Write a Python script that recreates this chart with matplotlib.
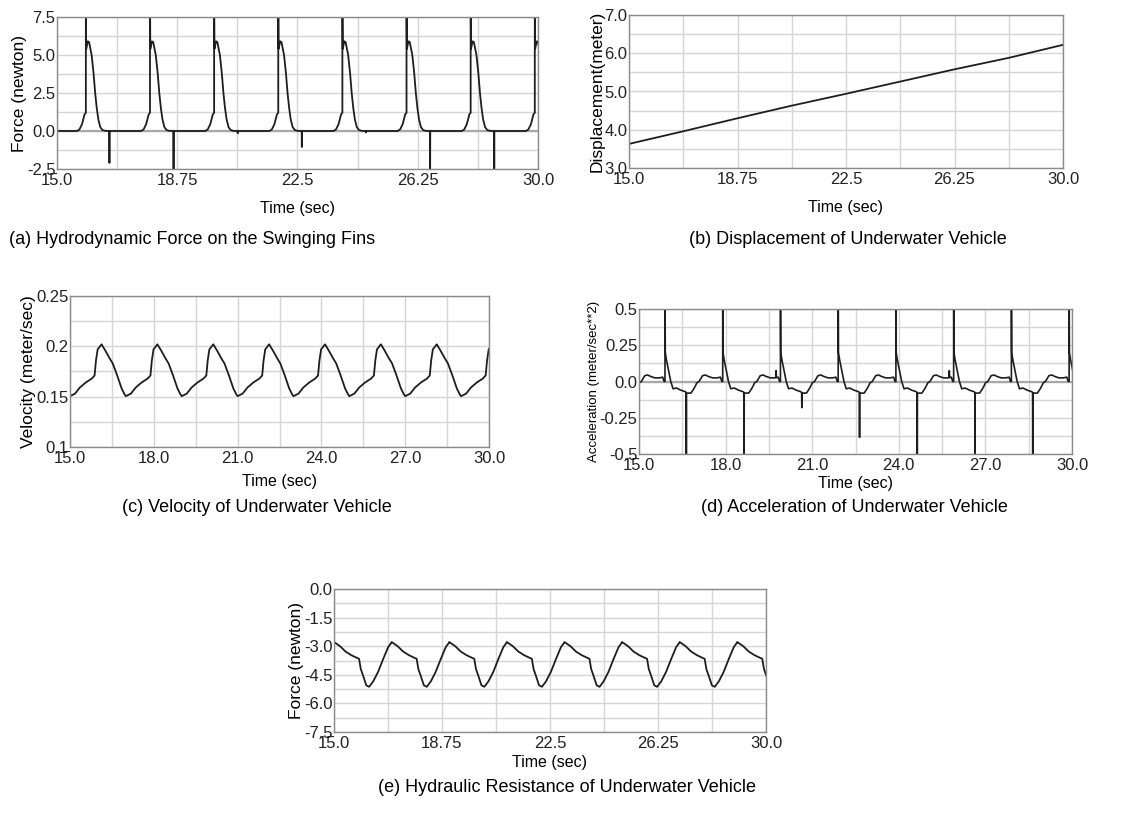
import matplotlib
matplotlib.use('Agg')
import matplotlib.pyplot as plt
import numpy as np

plt.rcParams['font.family'] = ['Liberation Sans', 'DejaVu Sans']

# stroke instants of the fins (seconds)
strokes = [15.9, 17.9, 19.9, 21.9, 23.9, 25.9, 27.9, 29.9]

# (a) hydrodynamic force, one stroke cycle relative to the stroke instant
fin_dt = [-1.1, -0.28, -0.20, -0.12, -0.04, 0.0, 0.0, 0.01, 0.06, 0.10, 0.18,
          0.24, 0.29, 0.34, 0.39, 0.45, 0.52, 0.60, 0.72, 0.73, 0.735, 0.74, 0.9]
fin_force = [0.0, 0.0, 0.1, 0.45, 1.1, 1.2, 9.0, 5.4, 5.9, 5.85, 5.0,
             3.8, 2.5, 1.5, 0.75, 0.25, 0.06, 0.01, 0.0, 0.0, 0.0, 0.0, 0.0]
fin_dip_idx = 20
fin_dips = [-2.1, -3.5, -0.15, -1.05, -0.1, -3.5, -3.5, 0.0]

# (b) displacement
disp_t = [15.0, 16.875, 18.75, 20.625, 22.5, 24.375, 26.25, 28.125, 30.0]
disp_m = [3.63, 3.96, 4.30, 4.63, 4.94, 5.26, 5.58, 5.88, 6.22]

# (c) velocity, one cycle relative to the stroke instant
vel_dt = [-0.9, -0.72, -0.55, -0.34, -0.12, -0.02, 0.03, 0.09, 0.23, 0.36,
          0.52, 0.63, 0.79, 0.95, 1.06, 1.1]
vel_v = [0.1505, 0.153, 0.159, 0.164, 0.168, 0.171, 0.186, 0.197, 0.202, 0.196,
         0.188, 0.183, 0.171, 0.158, 0.152, 0.1505]

# (d) acceleration, one cycle relative to the stroke instant
acc_dt = [-0.9, -0.82, -0.7, -0.6, -0.5, -0.35, -0.2, -0.16, -0.15, -0.14,
          -0.08, -0.03, 0.0, 0.0, 0.01, 0.05, 0.12, 0.2, 0.28, 0.4, 0.55,
          0.7, 0.735, 0.74, 0.745, 0.78, 0.9, 1.0, 1.08, 1.1]
acc_a = [-0.01, 0.0, 0.04, 0.045, 0.035, 0.025, 0.025, 0.027, 0.027, 0.027,
         0.03, 0.0, 0.0, 0.8, 0.2, 0.15, 0.08, 0.0, -0.05, -0.045, -0.06,
         -0.07, -0.075, -0.075, -0.08, -0.08, -0.08, -0.05, -0.02, -0.01]
acc_tick_idx = 8
acc_dip_idx = 23
acc_ticks = [0.027, 0.027, 0.075, 0.027, 0.027, 0.075, 0.027, 0.027]
acc_dips = [-0.8, -0.8, -0.18, -0.385, -0.8, -0.8, -0.8, -0.075]

# (e) hydraulic resistance, one cycle relative to the stroke instant
res_dt = [-0.9, -0.69, -0.5, -0.3, -0.12, -0.03, 0.03, 0.1, 0.22, 0.32,
          0.46, 0.63, 0.8, 0.98, 1.1]
res_f = [-2.78, -3.0, -3.28, -3.47, -3.6, -3.66, -4.2, -4.5, -5.05, -5.13,
         -4.85, -4.35, -3.7, -3.05, -2.8]

W, H = 1145, 814
fig = plt.figure(figsize=(W / 100, H / 100), dpi=100)
LINE = '#1e1e1e'


def cycles(dt, vals, idx=None, per_cycle=None, idx2=None, per_cycle2=None):
    t, y = [], []
    for k, ts in enumerate(strokes):
        v = list(vals)
        if idx is not None:
            v[idx] = per_cycle[k]
        if idx2 is not None:
            v[idx2] = per_cycle2[k]
        t.extend(ts + d for d in dt)
        y.extend(v)
    return t, y


def panel(l, t, r, b):
    return fig.add_axes([l / W, 1 - b / H, (r - l) / W, (b - t) / H])


def style(ax, xt, xl, yt, yl, ylabel, yfs=12.5, tfs=12, xpad=7):
    ax.set_xlim(xt[0], xt[-1])
    ax.set_ylim(yt[0], yt[-1])
    ax.set_xticks(xt)
    ax.set_xticklabels(xl, fontsize=tfs)
    ax.set_yticks(yt)
    ax.set_yticklabels(yl, fontsize=tfs)
    ax.set_xticks([(a + b) / 2 for a, b in zip(xt[:-1], xt[1:])], minor=True)
    ax.set_yticks([(a + b) / 2 for a, b in zip(yt[:-1], yt[1:])], minor=True)
    ax.grid(which='both', color='#d6d6d6', lw=1.0)
    ax.set_axisbelow(True)
    ax.tick_params(which='both', length=0, colors='#222222')
    ax.tick_params(axis='x', pad=3)
    ax.tick_params(axis='y', pad=1)
    for s in ax.spines.values():
        s.set_color('#8a8a8a')
        s.set_linewidth(1.0)
    ax.set_xlabel('Time (sec)', fontsize=11.5, labelpad=xpad)
    ax.set_ylabel(ylabel, fontsize=yfs, labelpad=0)


x_a = [15.0, 18.75, 22.5, 26.25, 30.0]
x_a_lab = ['15.0', '18.75', '22.5', '26.25', '30.0']
x_c = [15.0, 18.0, 21.0, 24.0, 27.0, 30.0]
x_c_lab = ['15.0', '18.0', '21.0', '24.0', '27.0', '30.0']

# (a)
ax = panel(57, 17, 538, 169)
ft, fy = cycles(fin_dt, fin_force, fin_dip_idx, fin_dips)
ax.axhline(0, color='#a8a8a8', lw=1.6, zorder=1.5)
ax.plot(ft, fy, color=LINE, lw=1.3)
style(ax, x_a, x_a_lab, [-2.5, 0.0, 2.5, 5.0, 7.5],
      ['-2.5', '0.0', '2.5', '5.0', '7.5'], 'Force (newton)', xpad=9)

# (b)
ax = panel(629, 15, 1063, 168)
ax.plot(disp_t, disp_m, color=LINE, lw=1.3)
style(ax, x_a, x_a_lab, [3.0, 4.0, 5.0, 6.0, 7.0],
      ['3.0', '4.0', '5.0', '6.0', '7.0'], 'Displacement(meter)', xpad=9)

# (c)
ax = panel(70, 296, 489, 447)
vt, vy = cycles(vel_dt, vel_v)
ax.plot(vt, vy, color=LINE, lw=1.3)
style(ax, x_c, x_c_lab, [0.1, 0.15, 0.2, 0.25],
      ['0.1', '0.15', '0.2', '0.25'], 'Velocity (meter/sec)', xpad=6)

# (d)
ax = panel(639, 309, 1072, 454)
at, ay = cycles(acc_dt, acc_a, acc_tick_idx, acc_ticks, acc_dip_idx, acc_dips)
ax.axhline(0, color='#a8a8a8', lw=1.6, zorder=1.5)
ax.plot(at, ay, color=LINE, lw=1.2)
style(ax, x_c, x_c_lab, [-0.5, -0.25, 0.0, 0.25, 0.5],
      ['-0.5', '-0.25', '0.0', '0.25', '0.5'], 'Acceleration (meter/sec**2)',
      yfs=9.5, xpad=2)

# (e)
ax = panel(334, 589, 766, 732)
rt, ry = cycles(res_dt, res_f)
ax.plot(rt, ry, color=LINE, lw=1.3)
style(ax, x_a, x_a_lab, [-7.5, -6.0, -4.5, -3.0, -1.5, 0.0],
      ['-7.5', '-6.0', '-4.5', '-3.0', '-1.5', '0.0'], 'Force (newton)', xpad=3)

captions = [
    (192, 240, '(a) Hydrodynamic Force on the Swinging Fins'),
    (848, 240, '(b) Displacement of Underwater Vehicle'),
    (257, 508, '(c) Velocity of Underwater Vehicle'),
    (854, 508, '(d) Acceleration of Underwater Vehicle'),
    (567, 787, '(e) Hydraulic Resistance of Underwater Vehicle'),
]
for cx, cy, txt in captions:
    fig.text(cx / W, 1 - cy / H, txt, ha='center', va='center', fontsize=13)

plt.savefig('out.png', dpi=100, facecolor='white')
print("Saved out.png")
